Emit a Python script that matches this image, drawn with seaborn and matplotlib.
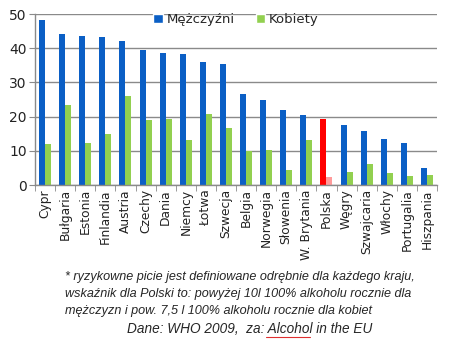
import matplotlib
matplotlib.use("Agg")
import matplotlib.pyplot as plt
import seaborn as sns
import pandas as pd
from matplotlib.ticker import FixedLocator

countries = ["Cypr", "Bułgaria", "Estonia", "Finlandia", "Austria", "Czechy", "Dania",
             "Niemcy", "Łotwa", "Szwecja", "Belgia", "Norwegia", "Słowenia", "W. Brytania",
             "Polska", "Węgry", "Szwajcaria", "Włochy", "Portugalia", "Hiszpania"]
men = [48.2, 44.2, 43.5, 43.2, 42.2, 39.5, 38.7, 38.3, 36.1, 35.4,
       26.5, 25.0, 21.9, 20.5, 19.4, 17.5, 15.9, 13.5, 12.2, 4.9]
women = [12.0, 23.3, 12.4, 14.9, 26.0, 19.0, 19.4, 13.2, 20.7, 16.6,
         10.0, 10.2, 4.4, 13.2, 2.4, 3.8, 6.1, 3.5, 2.6, 2.8]
series = ["Mężczyźni", "Kobiety"]
yticks = [0, 10, 20, 30, 40, 50]

df = pd.DataFrame({
    "kraj": countries * 2,
    "wartosc": men + women,
    "plec": [series[0]] * len(countries) + [series[1]] * len(countries),
})

sns.set_style("white")
plt.rcParams["font.family"] = ["DejaVu Sans"]

blue = "#0B5FC5"
green = "#92D050"

fig = plt.figure(figsize=(4.5, 3.45), dpi=100)
ax = fig.add_axes([35 / 450, 1 - 185 / 345, (437 - 35) / 450, (185 - 14) / 345])

sns.barplot(data=df, x="kraj", y="wartosc", hue="plec", order=countries,
            hue_order=series, palette=[blue, green], width=0.6, saturation=1,
            ax=ax, legend=True)

pol = countries.index("Polska")
ax.containers[0][pol].set_facecolor("#FF0000")
ax.containers[1][pol].set_facecolor("#FF9B9B")
for c in ax.containers:
    for p in c:
        p.set_edgecolor("none")

ax.set_xlim(-0.5, len(countries) - 0.5)
ax.set_ylim(0, 50)
ax.set_yticks(yticks)
ax.yaxis.grid(True, color="#8a8a8a", linewidth=1.0)
ax.set_axisbelow(True)
ax.set_xlabel("")
ax.set_ylabel("")
for s in ["top", "right"]:
    ax.spines[s].set_visible(False)
for s in ["left", "bottom"]:
    ax.spines[s].set_color("#8a8a8a")
    ax.spines[s].set_linewidth(1.0)

ax.tick_params(axis="y", labelsize=10, length=4, color="#8a8a8a", direction="out",
               left=True, pad=2, labelcolor="#222222")
ax.tick_params(axis="x", which="major", length=0, labelsize=8.8, rotation=90, pad=3,
               labelcolor="#222222")
ax.xaxis.set_minor_locator(FixedLocator([i - 0.5 for i in range(len(countries) + 1)]))
ax.tick_params(axis="x", which="minor", length=4, color="#8a8a8a", bottom=True,
               direction="out")

leg = ax.legend(loc="upper center", bbox_to_anchor=(0.5, 1.035), ncol=2, frameon=False,
                fontsize=9.5, handlelength=0.7, handleheight=0.7, handletextpad=0.3,
                columnspacing=1.6, borderaxespad=0)

fs = 9.05
fig.text(65 / 450, 1 - 277 / 345,
         "* ryzykowne picie jest definiowane odrębnie dla każdego kraju,",
         family="Liberation Sans", style="italic", fontsize=fs, va="center", ha="left")
fig.text(65 / 450, 1 - 294 / 345,
         "wskaźnik dla Polski to: powyżej 10l 100% alkoholu rocznie dla",
         family="Liberation Sans", style="italic", fontsize=fs, va="center", ha="left")
fig.text(65 / 450, 1 - 311 / 345,
         "mężczyzn i pow. 7,5 l 100% alkoholu rocznie dla kobiet",
         family="Liberation Sans", style="italic", fontsize=fs, va="center", ha="left")
fig.text(127 / 450, 1 - 329 / 345,
         "Dane: WHO 2009,  za: Alcohol in the EU",
         family="Liberation Sans", style="italic", fontsize=9.8, va="center", ha="left")
fig.add_artist(plt.Line2D([266 / 450, 310 / 450], [1 - 337 / 345, 1 - 337 / 345],
                          color="#E03030", linewidth=0.8))

fig.savefig("out.png", dpi=100)
